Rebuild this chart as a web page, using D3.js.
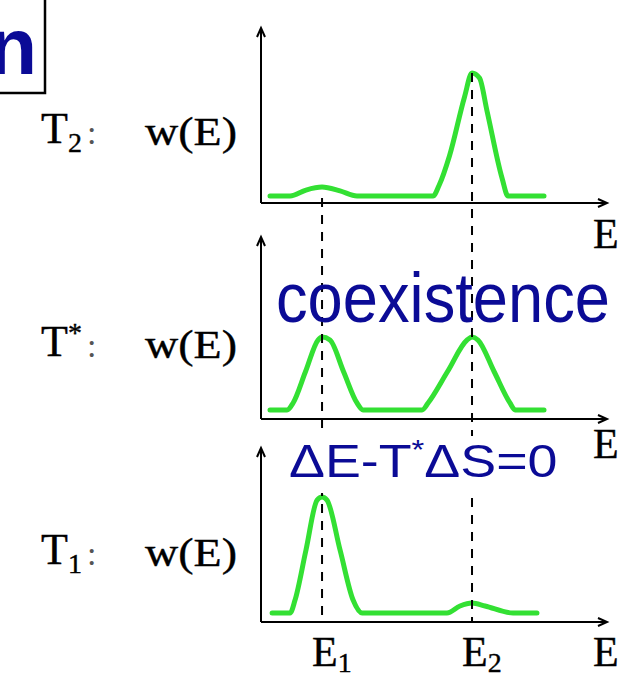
<!DOCTYPE html>
<html><head><meta charset="utf-8">
<script src="https://cdn.jsdelivr.net/npm/d3@7"></script>
<style>html,body{margin:0;padding:0;background:#fff;overflow:hidden}</style>
</head><body>
<svg id="c" width="635" height="677"></svg>
<script>
// ---- data ----
const peakEnergies = [1, 2];              // E1, E2
const peakLabels = [["E","1"],["E","2"]];
const panelTemps = [["T","2","sub"],["T","*","sup"],["T","1","sub"]];
const panelYLabel = "w(E)";
const axisLabel = "E";
const titleFragment = "n";
const coexText = "coexistence";
// w(E) curves, [E, w]
const curveT2 = [[0.653,0.04],[0.787,0.04],[0.893,0.074],[1.0,0.091],[1.12,0.069],[1.233,0.04],
  [1.74,0.04],[1.78,0.1],[1.85,0.27],[1.95,0.606],[2.0,0.743],[2.05,0.714],[2.1,0.526],[2.2,0.143],[2.24,0.04],[2.48,0.04]];
const curveTstar = [[0.653,0.05],[0.767,0.05],[0.807,0.088],[0.89,0.261],[0.973,0.434],[1.0,0.45],[1.053,0.434],
  [1.143,0.261],[1.233,0.088],[1.273,0.05],[1.667,0.05],[1.707,0.088],[1.837,0.261],[1.967,0.434],[2.0,0.45],
  [2.04,0.434],[2.147,0.261],[2.253,0.088],[2.287,0.05],[2.48,0.05]];
const curveT1 = [[0.667,0.052],[0.787,0.052],[0.82,0.126],[0.893,0.414],[0.967,0.701],[1.0,0.718],[1.033,0.701],
  [1.12,0.414],[1.207,0.126],[1.267,0.052],[1.833,0.052],[1.92,0.092],[2.0,0.109],[2.087,0.092],[2.273,0.052],[2.433,0.052]];
const curves = [curveT2, curveTstar, curveT1];

// ---- layout ----
const panels = [
  {axisY:203, topY:28,  labelY:145, eLabelY:248},
  {axisY:419, topY:237, labelY:358, eLabelY:458},
  {axisY:622, topY:448, labelY:566, eLabelY:666}
];
const blue = "#0b0b96", green = "#33e033", ink = "#000";
const svg = d3.select("#c");
const x = d3.scaleLinear().domain([0.593, 2.9]).range([261, 607]);
const serif = "'Liberation Serif','DejaVu Serif',serif";
const sans = "'Liberation Sans',Arial,sans-serif";

function serifText(sel){ return sel.attr("font-family",serif).attr("fill",ink).attr("stroke",ink).attr("stroke-width",0.4); }

// title box fragment
svg.append("text").attr("x",37).attr("y",74).attr("text-anchor","end")
  .attr("font-family",sans).attr("font-weight","bold").attr("font-size",80)
  .attr("fill",blue).text(titleFragment);
svg.append("path").attr("d","M45,0V93H0").attr("fill","none").attr("stroke","#000").attr("stroke-width",2.5);

const layerCurves = svg.append("g");
const layerDash = svg.append("g");
const layerAxes = svg.append("g");

panels.forEach((p,i)=>{
  const y = d3.scaleLinear().domain([0,1]).range([p.axisY, p.topY]);
  const ax = layerAxes.append("g").attr("stroke","#000").attr("stroke-width",2).attr("fill","none");
  ax.append("path").attr("d",`M${x.range()[0]},${y(0)}H${x.range()[1]}`);
  ax.append("path").attr("d",`M${x.range()[0]},${y(0)}V${y(1)}`);
  const xe = x.range()[1], x0 = x.range()[0];
  ax.append("path").attr("d",`M${xe-9},${y(0)-4}L${xe},${y(0)}L${xe-9},${y(0)+4}M${xe-9},${y(0)}L${xe-4},${y(0)}`).attr("stroke-width",2);
  ax.append("path").attr("d",`M${x0-4},${y(1)+9}L${x0},${y(1)}L${x0+4},${y(1)+9}`).attr("stroke-width",2);
  const line = d3.line().x(d=>x(d[0])).y(d=>y(d[1])).curve(d3.curveMonotoneX);
  layerCurves.append("path").attr("d",line(curves[i])).attr("fill","none")
    .attr("stroke",green).attr("stroke-width",5).attr("stroke-linejoin","round").attr("stroke-linecap","round");
  serifText(svg.append("text")).attr("x",593).attr("y",p.eLabelY).attr("font-size",42).text(axisLabel);
  const t = serifText(svg.append("text")).attr("x",41).attr("y",p.labelY-2).attr("font-size",44);
  t.append("tspan").text(panelTemps[i][0]);
  if(panelTemps[i][2]==="sub") t.append("tspan").attr("font-size",28).attr("dy",9).text(panelTemps[i][1]);
  else t.append("tspan").attr("font-size",28).attr("dy",-14).text(panelTemps[i][1]);
  svg.append("text").attr("x",87).attr("y",p.labelY-1).attr("font-family",serif).attr("font-size",34).attr("fill","#555").text(":");
  serifText(svg.append("text")).attr("x",145).attr("y",p.labelY).attr("font-size",41)
    .attr("textLength",92).attr("lengthAdjust","spacingAndGlyphs").text(panelYLabel);
});

// dashed guide lines
const yTop2 = d3.scaleLinear().domain([0,1]).range([panels[0].axisY, panels[0].topY]);
const dashStart = [panels[0].axisY-5, yTop2(curveT2.find(d=>d[0]===2)[1])];
peakEnergies.forEach((e,k)=>{
  layerDash.append("line").attr("x1",x(e)).attr("x2",x(e)).attr("y1",dashStart[k]).attr("y2",panels[2].axisY)
    .attr("stroke","#000").attr("stroke-width",2).attr("stroke-dasharray","9,8");
});

// E1, E2 labels
peakEnergies.forEach((e,k)=>{
  const t = serifText(svg.append("text")).attr("x",x(e)-10).attr("y",666).attr("font-size",42);
  t.append("tspan").text(peakLabels[k][0]);
  t.append("tspan").attr("font-size",28).attr("dy",6).text(peakLabels[k][1]);
});

// annotations
svg.append("text").attr("x",276).attr("y",322).attr("font-family",sans).attr("font-size",70)
  .attr("textLength",334).attr("lengthAdjust","spacingAndGlyphs").attr("fill",blue).text(coexText);
svg.append("rect").attr("x",286).attr("y",436).attr("width",272).attr("height",57).attr("fill","#fff");
const eq = svg.append("text").attr("transform","translate(289,477) scale(1.17,1)")
  .attr("font-family",sans).attr("font-size",46).attr("fill",blue);
eq.append("tspan").text("ΔE-T");
eq.append("tspan").attr("font-size",28).attr("dy",-18).text("*");
eq.append("tspan").attr("dy",18).text("ΔS=0");
</script>
</body></html>
